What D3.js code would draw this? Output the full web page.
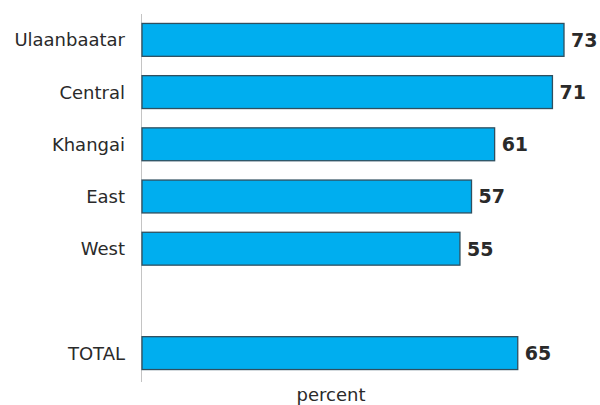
<!DOCTYPE html>
<meta charset="utf-8">
<style>
body { margin: 0; background: #fff; }
text { font-family: 'DejaVu Sans', Verdana, sans-serif; }
</style>
<body>
<svg width="600" height="405"></svg>
<script src="https://d3js.org/d3.v7.min.js"></script>
<script>
// regions, with an empty slot before the total
var regions = ["Ulaanbaatar", "Central", "Khangai", "East", "West", "", "TOTAL"];
var values = [73, 71, 61, 57, 55, null, 65];

var svg = d3.select("svg"),
    x0 = 142;

var x = d3.scaleLinear().domain([0, 73]).range([x0, 564]);
var y = d3.scaleBand()
    .domain(d3.range(regions.length))
    .range([13, 380])
    .paddingInner(0.37)
    .paddingOuter(0.2);

var data = regions.map(function(r, i) { return {name: r, value: values[i], i: i}; })
    .filter(function(d) { return d.value != null; });

// vertical axis line
svg.append("line")
    .attr("x1", x0 - 0.5).attr("x2", x0 - 0.5)
    .attr("y1", 14).attr("y2", 382)
    .attr("stroke", "#c4c4c4")
    .attr("stroke-width", 1);

svg.selectAll("rect.bar")
    .data(data)
  .enter().append("rect")
    .attr("class", "bar")
    .attr("x", x(0))
    .attr("y", function(d) { return y(d.i); })
    .attr("width", function(d) { return x(d.value) - x(0); })
    .attr("height", y.bandwidth())
    .attr("fill", "#00aeef")
    .attr("stroke", "#2f4f5f")
    .attr("stroke-width", 1.3);

svg.selectAll("text.name")
    .data(data)
  .enter().append("text")
    .attr("class", "name")
    .attr("x", 125)
    .attr("y", function(d) { return y(d.i) + y.bandwidth() / 2; })
    .attr("dy", "0.36em")
    .attr("text-anchor", "end")
    .attr("font-size", 18)
    .attr("fill", "#2a2a2a")
    .text(function(d) { return d.name; });

svg.selectAll("text.val")
    .data(data)
  .enter().append("text")
    .attr("class", "val")
    .attr("x", function(d) { return x(d.value) + 7; })
    .attr("y", function(d) { return y(d.i) + y.bandwidth() / 2; })
    .attr("dy", "0.36em")
    .attr("font-size", 19)
    .attr("font-weight", "bold")
    .attr("fill", "#2a2a2a")
    .text(function(d) { return d.value; });

svg.append("text")
    .attr("x", 331)
    .attr("y", 401)
    .attr("text-anchor", "middle")
    .attr("font-size", 18)
    .attr("fill", "#2a2a2a")
    .text("percent");
</script>
</body>
